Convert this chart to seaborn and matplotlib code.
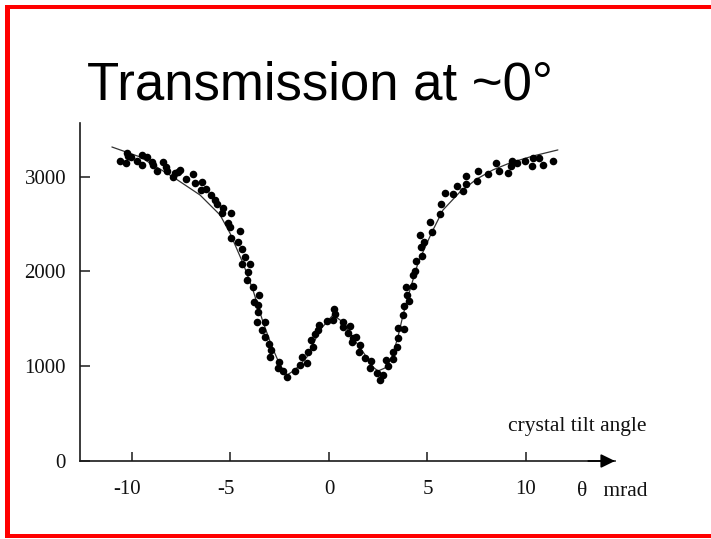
import matplotlib
matplotlib.use("Agg")
import matplotlib.pyplot as plt
import matplotlib.transforms as mtransforms
import seaborn as sns
import pandas as pd
from matplotlib.patches import Rectangle

# Measured transmission counts versus crystal tilt angle (mrad)
theta_meas = [
    -10.61, -10.32, -10.27, -10.19, -10.05, -9.76, -9.51, -9.51, -9.22, -9.00,
    -8.92, -8.75, -8.41, -8.27, -8.21, -7.90, -7.82, -7.68, -7.56, -7.26,
    -6.89, -6.80, -6.46, -6.50, -6.26, -6.01, -5.79, -5.70, -5.37, -5.42,
    -4.97, -5.11, -5.03, -4.52, -4.97, -4.60, -4.43, -4.26, -4.43, -4.01,
    -4.13, -4.18, -3.87, -3.54,
    -3.79, -3.59, -3.59, -3.67, -3.25, -3.42, -3.25, -3.03, -2.96, -2.99,
    -2.54, -2.60, -2.35, -2.15, -1.73, -1.47, -1.36, -1.13, -1.05, -0.80,
    -0.93, -0.71, -0.54, -0.49, -0.12, 0.22, 0.27, 0.30,
    0.73, 0.73, 1.07, 0.98, 1.20, 1.37, 1.15, 1.57, 1.54, 1.83,
    2.12, 2.08, 2.42, 2.59, 2.76, 2.89, 3.01, 3.23, 3.26, 3.44,
    3.52, 3.52, 3.81, 3.74, 3.81, 4.08, 3.97, 3.91, 4.28, 4.25, 4.37,
    4.42, 4.71, 4.65, 4.82, 4.62, 5.21, 5.13, 5.63, 5.67, 5.89,
    6.31, 6.51, 6.79, 6.95, 6.95, 7.53, 7.58, 8.09, 8.48, 8.64,
    9.10, 9.24, 9.27, 9.53, 9.95, 10.29, 10.34, 10.68, 10.85, 11.39,
]
counts_meas = [
    3165, 3147, 3246, 3217, 3204, 3168, 3228, 3122, 3210, 3157,
    3122, 3062, 3151, 3098, 3062, 2999, 3035, 3052, 3070, 2972,
    3024, 2929, 2946, 2859, 2869, 2806, 2753, 2711, 2666, 2619,
    2619, 2514, 2472, 2429, 2349, 2313, 2233, 2149, 2078, 2078,
    1997, 1909, 1839, 1751,
    1680, 1646, 1569, 1469, 1469, 1382, 1311, 1231, 1171, 1094,
    1048, 978, 953, 889, 953, 1013, 1094, 1037, 1153, 1199,
    1276, 1340, 1382, 1435, 1480, 1487, 1600, 1548,
    1469, 1410, 1424, 1353, 1294, 1305, 1252, 1224, 1153, 1083,
    1058, 978, 931, 854, 907, 1065, 1002, 1073, 1153, 1206,
    1294, 1400, 1392, 1540, 1635, 1688, 1751, 1832, 1846, 1962, 2008,
    2113, 2163, 2261, 2313, 2384, 2419, 2524, 2606, 2711, 2830,
    2817, 2904, 2848, 2919, 3006, 2957, 3062, 3024, 3147, 3062,
    3035, 3115, 3168, 3147, 3168, 3112, 3193, 3193, 3122, 3168,
]

# Calculated transmission curve
theta_fit = [
    -11.02, -9.59, -7.92, -6.55, -5.53, -5.03, -4.37, -3.86, -3.35, -2.89,
    -2.49, -2.13, -1.73, -1.12, -0.46, 0.20, 0.71, 1.22, 1.73, 2.23,
    2.49, 2.84, 3.20, 3.50, 3.76, 4.11, 4.52, 5.23, 5.79, 6.65,
    7.51, 8.32, 9.19, 10.36, 11.62,
]
counts_fit = [
    3312, 3207, 2996, 2806, 2595, 2405, 2089, 1804, 1466, 1203,
    1013, 907, 960, 1097, 1382, 1540, 1466, 1298, 1150, 992,
    949, 981, 1097, 1308, 1540, 1804, 2089, 2416, 2648, 2838,
    2975, 3070, 3144, 3217, 3281,
]

x_ticks = [-10, -5, 0, 5, 10]
x_tick_labels = ["-10", "-5", "0", "5", "10"]
y_ticks = [0, 1000, 2000, 3000]
y_tick_labels = ["0", "1000", "2000", "3000"]

meas = pd.DataFrame({"theta": theta_meas, "counts": counts_meas})
fit = pd.DataFrame({"theta": theta_fit, "counts": counts_fit})

sns.set_theme(style="white")
plt.rcParams["font.family"] = ["Liberation Serif", "DejaVu Serif"]
plt.rcParams["xtick.bottom"] = True
plt.rcParams["ytick.left"] = True
plt.rcParams["xtick.direction"] = "in"
plt.rcParams["ytick.direction"] = "in"

W, H = 711, 539
fig = plt.figure(figsize=(W / 100, H / 100), dpi=100)
fig.patch.set_facecolor("white")

ax = fig.add_axes([80 / W, (H - 461) / H, (615 - 80) / W, (461 - 123) / H])
ax.set_facecolor("none")

sns.lineplot(data=fit, x="theta", y="counts", ax=ax, color="#333333",
             linewidth=0.9, estimator=None, sort=False)
sns.scatterplot(data=meas, x="theta", y="counts", ax=ax, color="black",
                s=30, linewidth=0, zorder=3)

ax.set_xlim(-12.64, 14.52)
ax.set_ylim(0, 3565)
ax.set_xlabel("")
ax.set_ylabel("")

for side in ("top", "right"):
    ax.spines[side].set_visible(False)
for side in ("left", "bottom"):
    ax.spines[side].set_color("#1a1a1a")
    ax.spines[side].set_linewidth(1.2)

ax.set_xticks(x_ticks)
ax.set_xticklabels(x_tick_labels)
ax.set_yticks(y_ticks)
ax.set_yticklabels(y_tick_labels)
ax.tick_params(axis="x", which="major", direction="in", length=6.5, width=1.1,
               color="#1a1a1a", pad=14, labelsize=15, labelcolor="#111111",
               bottom=True, top=False)
ax.tick_params(axis="y", which="major", direction="in", length=7, width=1.1,
               color="#1a1a1a", pad=10, labelsize=15, labelcolor="#111111",
               left=True, right=False)

# negative angle labels sit slightly left of their ticks
shift = mtransforms.ScaledTranslation(-5 / 100, 0, fig.dpi_scale_trans)
for lab in ax.get_xticklabels():
    if lab.get_text().startswith("-"):
        lab.set_transform(lab.get_transform() + shift)

# arrow head on the angle axis
ax.annotate("", xy=(1.0, 0), xycoords=("axes fraction", "data"),
            xytext=(0.95, 0), textcoords=("axes fraction", "data"),
            arrowprops=dict(arrowstyle="-|>,head_length=0.45,head_width=0.22",
                            mutation_scale=19, color="black", lw=1.2,
                            shrinkA=0, shrinkB=0),
            annotation_clip=False)

fig.text(508 / W, 1 - 426 / H, "crystal tilt angle", fontsize=15.5,
         ha="left", va="center", color="#111111")
fig.text(577 / W, 1 - 491 / H, "θ   mrad", fontsize=15.5,
         ha="left", va="center", color="#111111")

fig.text(87 / W, 1 - 100 / H, "Transmission at ~0°", fontsize=38,
         family=["Liberation Sans", "DejaVu Sans"], ha="left", va="baseline",
         color="black")

# slide frame
frame_kw = dict(transform=None, color="#ff0000", linewidth=0, zorder=10)
fig.patches.append(Rectangle((5, H - 9), W + 10, 4.5, **frame_kw))
fig.patches.append(Rectangle((5, H - 538), 4.5, 531, **frame_kw))
fig.patches.append(Rectangle((5, H - 538), W + 10, 4, **frame_kw))

fig.savefig("out.png", dpi=100)
